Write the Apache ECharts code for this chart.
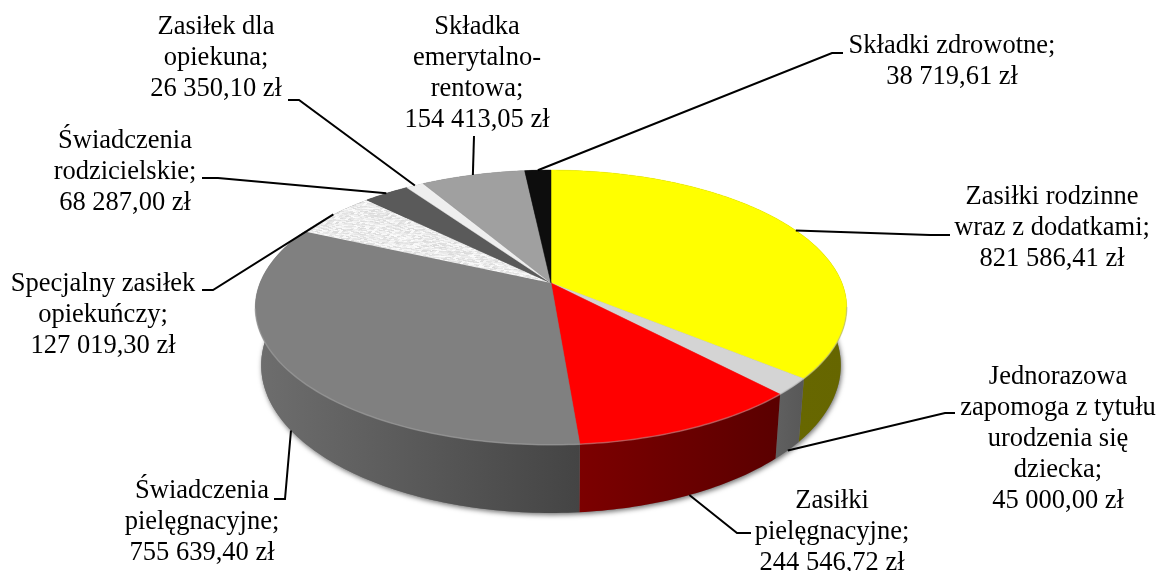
<html lang="pl">
<head>
    <meta charset="UTF-8">
    <title>Świadczenia</title>
    <script src="https://cdn.jsdelivr.net/npm/echarts@6/dist/echarts.min.js"></script>
    <style>
        html, body { margin: 0; padding: 0; background: #fff; }
        #pie { width: 1158px; height: 571px; }
    </style>
</head>
<body>
<div id="pie"></div>
<script type="text/javascript">
    // dane
    var categories = [
        'Zasiłki rodzinne\nwraz z dodatkami;',
        'Jednorazowa\nzapomoga z tytułu\nurodzenia się\ndziecka;',
        'Zasiłki\npielęgnacyjne;',
        'Świadczenia\npielęgnacyjne;',
        'Specjalny zasiłek\nopiekuńczy;',
        'Świadczenia\nrodzicielskie;',
        'Zasiłek dla\nopiekuna;',
        'Składka\nemerytalno-\nrentowa;',
        'Składki zdrowotne;'
    ];
    var amounts = [821586.41, 45000.00, 244546.72, 755639.40, 127019.30, 68287.00, 26350.10, 154413.05, 38719.61];

    // wyglad
    var topColors = ['#ffff00', '#d4d4d4', '#ff0000', '#808080', 'texture', '#5a5a5a', '#eeeeee', '#a0a0a0', '#0d0d0d'];
    var wallColors = [
        ['#6c6c00', '#666600'], ['#606060', '#585858'], ['#7c0000', '#5a0000'], ['#6e6e6e', '#444444'],
        ['#777777', '#777777'], ['#333333', '#333333'], ['#888888', '#888888'], ['#555555', '#555555'], ['#000000', '#000000']
    ];
    var labelAnchors = [[1052, 197], [1058, 377], [832, 501], [202, 491], [103, 284], [125, 141], [216, 27], [477, 27], [952, 46]];
    var leaderKnees = [
        [[930, 235], [950, 235]], [[945, 413], [955, 413]], [[737, 533], [751, 533]],
        [[285, 499], [274, 499]], [[213, 290], [202, 290]], [[218, 178], [202, 178]],
        [[299, 100], [288, 100]], [[474, 136], [474, 136]], [[832, 53], [843, 53]]
    ];

    // geometria tortu (rzut perspektywiczny kola)
    var cx = 551, cy = 283, rx = 291, ry = 133, persp = 0.178, depth = 56, baseScale = 0.98;
    var total = amounts.reduce(function (a, b) { return a + b; }, 0);
    var starts = [];
    amounts.reduce(function (sum, v, i) { starts[i] = sum / total; return sum + v; }, 0);

    function project(t, r, down) {
        var x = Math.sin(t) * r, y = -Math.cos(t) * r;
        var w = 1 - persp * y;
        if (down) {
            return [cx + baseScale * rx * x / w, cy + ry * y / w + depth / w];
        }
        return [cx + rx * x / w, cy + ry * y / w];
    }

    function arc(a0, a1, down) {
        var n = Math.max(2, Math.ceil((a1 - a0) * 60)), pts = [];
        for (var i = 0; i <= n; i++) {
            pts.push(project(a0 + (a1 - a0) * i / n, 1, down));
        }
        return pts;
    }

    function angles(i) {
        var a0 = starts[i] * 2 * Math.PI;
        return [a0, a0 + amounts[i] / total * 2 * Math.PI];
    }

    function money(v) {
        var parts = v.toFixed(2).split('.');
        return parts[0].replace(/\B(?=(\d{3})+$)/g, ' ') + ',' + parts[1] + ' zł';
    }

    // tekstura "specjalny zasilek"
    function makeTexture() {
        var c = document.createElement('canvas');
        c.width = 72; c.height = 48;
        var ctx = c.getContext('2d');
        for (var y = 0; y < 48; y++) {
            for (var x = 0; x < 72; x++) {
                var cell = Math.floor((x + (y % 3)) / 3);
                var h = Math.sin((cell + 1) * 12.9898 + (y + 1) * 78.233) * 43758.5453;
                h = h - Math.floor(h);
                var g = Math.round(218 + h * 34);
                ctx.fillStyle = 'rgb(' + g + ',' + g + ',' + g + ')';
                ctx.fillRect(x, y, 1, 1);
            }
        }
        return c;
    }
    var texture = makeTexture();

    function renderWall(params) {
        var i = params.dataIndex, a = angles(i);
        var pts = arc(a[0], a[1], false).concat(arc(a[0], a[1], true).reverse());
        var xs = pts.map(function (p) { return p[0]; });
        var children = [];
        if (i === 0) {
            // cien pod cala podstawa
            children.push({
                type: 'polygon',
                shape: {points: arc(0, 2 * Math.PI, true)},
                style: {fill: '#777', shadowBlur: 5, shadowColor: 'rgba(0,0,0,0.55)', shadowOffsetX: 1, shadowOffsetY: 2}
            });
        }
        children.push({
            type: 'polygon',
            shape: {points: pts},
            style: {
                fill: new echarts.graphic.LinearGradient(Math.min.apply(null, xs), 0, Math.max.apply(null, xs), 0, [
                    {offset: 0, color: wallColors[i][0]},
                    {offset: 1, color: wallColors[i][1]}
                ], true)
            }
        });
        return {type: 'group', children: children};
    }

    function renderTop(params) {
        var i = params.dataIndex, a = angles(i);
        var rim = arc(a[0], a[1], false);
        var fill = topColors[i] === 'texture' ? {image: texture, repeat: 'repeat'} : topColors[i];
        var style = {fill: fill};
        if (topColors[i] !== 'texture') {
            style.stroke = topColors[i];
            style.lineWidth = 0.5;
        }
        return {
            type: 'group',
            children: [
                {type: 'polygon', shape: {points: [[cx, cy]].concat(rim)}, style: style},
                // jasna krawedz od frontu
                {
                    type: 'polyline',
                    shape: {points: rim.filter(function (p) { return p[1] > cy + 24; })},
                    style: {fill: 'none', stroke: 'rgba(170,170,170,0.45)', lineWidth: 1.5}
                }
            ]
        };
    }

    function renderLabel(params) {
        var i = params.dataIndex, a = angles(i);
        var mid = (a[0] + a[1]) / 2;
        var front = -Math.cos(mid) > 0;
        var start = project(mid, 1, front);
        return {
            type: 'group',
            children: [
                {
                    type: 'polyline',
                    shape: {points: [start].concat(leaderKnees[i])},
                    style: {fill: 'none', stroke: '#000', lineWidth: 2}
                },
                {
                    type: 'text',
                    x: labelAnchors[i][0],
                    y: labelAnchors[i][1] - 15.5,
                    style: {
                        text: categories[i] + '\n' + money(amounts[i]),
                        fill: '#000',
                        font: '26.5px "Liberation Serif"',
                        lineHeight: 31,
                        align: 'center',
                        verticalAlign: 'top'
                    }
                }
            ]
        };
    }

    var myChart = echarts.init(document.getElementById('pie'));
    var option = {
        backgroundColor: '#fff',
        animation: false,
        series: [
            {type: 'custom', coordinateSystem: 'none', silent: true, data: amounts, renderItem: renderWall},
            {type: 'custom', coordinateSystem: 'none', silent: true, data: amounts, renderItem: renderTop},
            {type: 'custom', coordinateSystem: 'none', silent: true, data: amounts, renderItem: renderLabel}
        ]
    };
    myChart.setOption(option);
</script>
</body>
</html>
